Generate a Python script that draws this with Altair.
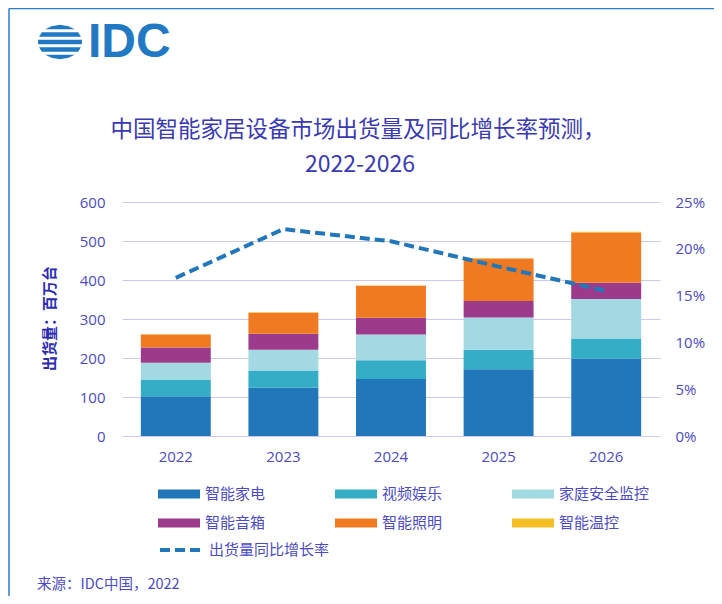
import altair as alt
import pandas as pd

# ---------------- data ----------------
years = ["2022", "2023", "2024", "2025", "2026"]
categories = ["智能家电", "视频娱乐", "家庭安全监控", "智能音箱", "智能照明", "智能温控"]
colors = ["#2277bb", "#35adc6", "#a2d9e3", "#9c3b8b", "#f07a22", "#f5c023"]

appliances = [102, 124, 146, 171, 198]
video = [43, 44, 48, 50, 52]
security = [43, 53, 66, 83, 101]
speakers = [39, 41, 43, 42, 42]
lighting = [33, 54, 82, 109, 129]
thermostat = [1, 1, 1, 1, 1.5]

growth_name = "出货量同比增长率"
growth = [0.169, 0.221, 0.208, 0.181, 0.155]

left_ticks = [0, 100, 200, 300, 400, 500, 600]
right_ticks = [0, 0.05, 0.10, 0.15, 0.20, 0.25]

title_line1 = "中国智能家居设备市场出货量及同比增长率预测，"
title_line2 = "2022-2026"
y_title = "出货量：百万台"
source_text = "来源：IDC中国，2022"
logo_text = "IDC"

# ---------------- tables ----------------
series = [appliances, video, security, speakers, lighting, thermostat]
rows = []
for ci, (cat, vals) in enumerate(zip(categories, series)):
    for y, v in zip(years, vals):
        rows.append({"year": y, "category": cat, "value": v, "idx": ci})
bar_df = pd.DataFrame(rows)
line_df = pd.DataFrame({"year": years, "growth": growth, "series": [growth_name] * len(years)})

TXT = "#4b4bc5"
CJK = "Noto Sans CJK SC"
NUM = "Open Sans"

x_enc = alt.X(
    "year:N",
    sort=years,
    scale=alt.Scale(paddingInner=0.35, paddingOuter=0.175),
    axis=alt.Axis(title=None, labelAngle=0, labelFont=NUM, labelFontSize=15,
                  labelColor=TXT, labelPadding=13, ticks=False, domain=False, grid=False),
)

bars = alt.Chart(bar_df).mark_bar().encode(
    x=x_enc,
    y=alt.Y("value:Q", stack="zero", scale=alt.Scale(domain=[0, 600]),
            axis=alt.Axis(values=left_ticks, title=y_title, titleFont=CJK, titleFontSize=15,
                          titleFontWeight="bold", titleColor="#2b2bb5", titleAngle=-90,
                          titleX=-73, titleY=116, titleAlign="center", titleBaseline="middle",
                          labelFont=NUM, labelFontSize=15, labelColor=TXT, labelPadding=17,
                          ticks=False, domain=False, grid=True, gridColor="#c9c9f2", gridWidth=1)),
    color=alt.Color("category:N", scale=alt.Scale(domain=categories, range=colors),
                    legend=alt.Legend(title=None, orient="none", legendX=36, legendY=271,
                                      direction="horizontal", columns=3, columnPadding=69,
                                      rowPadding=0,
                                      symbolType="M-1,-0.21H1V0.21H-1Z", symbolSize=1764,
                                      symbolStrokeWidth=0, symbolOpacity=1, labelOffset=5,
                                      labelFont=CJK, labelFontSize=15, labelColor=TXT)),
    order=alt.Order("idx:Q", sort="ascending"),
)

line = alt.Chart(line_df).mark_line(strokeDash=[10, 5], strokeWidth=4, interpolate="linear").encode(
    x=alt.X("year:N", sort=years),
    y=alt.Y("growth:Q", scale=alt.Scale(domain=[0, 0.25]),
            axis=alt.Axis(orient="right", values=right_ticks, format=".0%", title=None,
                          labelFont=NUM, labelFontSize=15, labelColor=TXT, labelPadding=15,
                          ticks=False, domain=False, grid=False)),
    stroke=alt.Stroke("series:N", scale=alt.Scale(domain=[growth_name], range=["#2277bb"]),
                      legend=alt.Legend(title=None, orient="none", legendX=36, legendY=325,
                                        symbolType="stroke", symbolSize=1764, symbolStrokeWidth=4,
                                        symbolDash=[10, 5], labelOffset=5, labelFont=CJK,
                                        labelFontSize=15, labelColor=TXT)),
)

one = alt.Data(values=[{}])

title1 = alt.Chart(one).mark_text(font=CJK, fontSize=22.5, color="#3a3ab5", align="center",
                                  baseline="middle").encode(
    x=alt.value(236), y=alt.value(-72), text=alt.value(title_line1))
title2 = alt.Chart(one).mark_text(font=CJK, fontSize=23, color="#3a3ab5", align="center",
                                  baseline="middle").encode(
    x=alt.value(238), y=alt.value(-37), text=alt.value(title_line2))
source = alt.Chart(one).mark_text(font=CJK, fontSize=14.5, color=TXT, align="left",
                                  baseline="middle").encode(
    x=alt.value(-85), y=alt.value(383), text=alt.value(source_text))
logo = alt.Chart(one).mark_text(font="Liberation Sans", fontWeight="bold", fontSize=48,
                                color="#2179c4", align="left", baseline="alphabetic").encode(
    x=alt.value(-34), y=alt.value(-145), text=alt.value(logo_text))

globe_path = (
    "M-0.669,-0.58L-0.385,-0.72L0,-0.78L0.385,-0.72L0.669,-0.58Z"
    "M-0.826,-0.44L0.826,-0.44L0.951,-0.24L-0.951,-0.24Z"
    "M-0.992,-0.1L0.992,-0.1L1,0L0.992,0.1L-0.992,0.1L-1,0Z"
    "M-0.951,0.24L0.951,0.24L0.826,0.44L-0.826,0.44Z"
    "M-0.669,0.58L0.669,0.58L0.385,0.72L0,0.78L-0.385,0.72Z"
)
globe = alt.Chart(one).mark_point(shape=globe_path, filled=True, color="#2179c4", opacity=1,
                                  size=1936, strokeWidth=0).encode(
    x=alt.value(-62), y=alt.value(-160))

border_left = alt.Chart(one).mark_rule(color="#2a7ed0", strokeWidth=1.5).encode(
    x=alt.value(-113), y=alt.value(-193.5), y2=alt.value(394))
border_top = alt.Chart(one).mark_rule(color="#2a7ed0", strokeWidth=1.5).encode(
    x=alt.value(-113), x2=alt.value(592), y=alt.value(-193.5))

chart = alt.layer(bars, line, title1, title2, source, logo, globe, border_left, border_top).resolve_scale(
    y="independent"
).properties(
    width=538, height=234,
    autosize=alt.AutoSizeParams(type="none"),
    padding={"left": 114, "top": 194, "right": 54, "bottom": 160},
    background="white",
).configure_view(stroke=None)

chart.save("out.html", embed_options={"renderer": "svg", "actions": False})
